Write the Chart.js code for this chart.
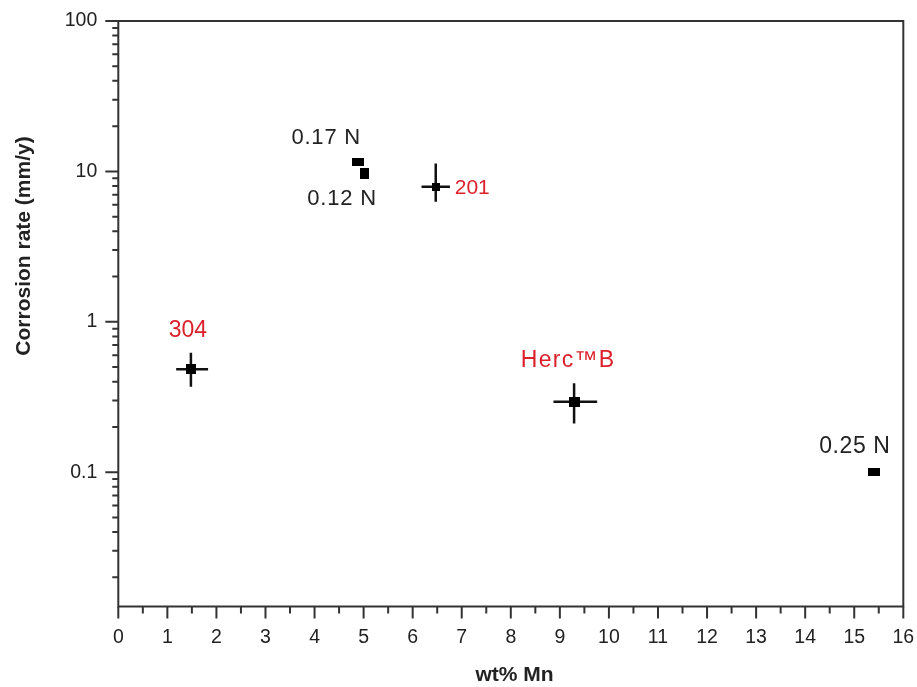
<!DOCTYPE html>
<html><head><meta charset="utf-8">
<script src="https://cdn.jsdelivr.net/npm/chart.js@4/dist/chart.umd.min.js"></script>
<style>html,body{margin:0;padding:0;background:#fff}#wrap{width:917px;height:687px;position:relative}</style>
</head><body><div id="wrap"><canvas id="c"></canvas></div>
<script>
// ---- data ----
const pointLabels   = ['304', '0.17 N', '0.12 N', '201', 'Herc\u2122B', '0.25 N'];
const mnWt          = [1.48, 4.89, 5.01, 6.47, 9.29, 15.40];
const corrosionRate = [0.483, 11.6, 9.7, 7.9, 0.294, 0.100];
const mnLow         = [1.18, null, null, 6.18, 8.87, null];
const mnHigh        = [1.83, null, null, 6.76, 9.76, null];
const rateLow       = [0.370, null, null, 6.29, 0.211, null];
const rateHigh      = [0.623, null, null, 11.3, 0.390, null];
const xTickValues   = [0,1,2,3,4,5,6,7,8,9,10,11,12,13,14,15,16];
const yTickValues   = [0.1, 1, 10, 100];
const xTitle = 'wt% Mn';
const yTitle = 'Corrosion rate (mm/y)';

// ---- styles (not data) ----
const RED = '#dc1f2a', INK = '#222222', AXIS = '#333333';
const FONT = '"Liberation Sans", Arial, Helvetica, sans-serif';
const labelStyle = [
  {color: RED, size: 23, sp: 0,   dx: -3,  dy: -39, align: 'center'},
  {color: INK, size: 22, sp: 0.8, dx: -32, dy: -24, align: 'center'},
  {color: INK, size: 22, sp: 0.8, dx: -22, dy: 26,  align: 'center'},
  {color: RED, size: 21, sp: 0,   dx: 19,  dy: 1,   align: 'left'},
  {color: RED, size: 23, sp: 1.3, dx: -6,  dy: -41, align: 'center'},
  {color: INK, size: 23, sp: 0.6, dx: -19, dy: -26, align: 'center'}
];
function makeRect(w, h) {
  const c = document.createElement('canvas'); c.width = w; c.height = h;
  const g = c.getContext('2d'); g.fillStyle = '#000'; g.fillRect(0, 0, w, h); return c;
}
const markers = [makeRect(10,10), makeRect(12,8), makeRect(9,11), makeRect(8,8), makeRect(11,10), makeRect(12,8)];

const decor = {
  id: 'decor',
  beforeDatasetsDraw(chart) {
    const {ctx, scales: {x, y}} = chart;
    ctx.save();
    ctx.strokeStyle = '#111'; ctx.lineWidth = 2.5; ctx.lineCap = 'butt';
    for (let i = 0; i < mnWt.length; i++) {
      if (mnLow[i] == null) continue;
      const px = x.getPixelForValue(mnWt[i]), py = y.getPixelForValue(corrosionRate[i]);
      ctx.beginPath();
      ctx.moveTo(x.getPixelForValue(mnLow[i]), py); ctx.lineTo(x.getPixelForValue(mnHigh[i]), py);
      ctx.moveTo(px, y.getPixelForValue(rateHigh[i])); ctx.lineTo(px, y.getPixelForValue(rateLow[i]));
      ctx.stroke();
    }
    ctx.restore();
  },
  afterDraw(chart) {
    const {ctx, chartArea: a, scales: {x, y}} = chart;
    ctx.save();
    // frame
    ctx.strokeStyle = AXIS; ctx.lineWidth = 2; ctx.lineCap = 'square';
    ctx.strokeRect(a.left, a.top, a.right - a.left, a.bottom - a.top);
    // y ticks
    ctx.lineCap = 'butt';
    ctx.beginPath();
    for (let d = -2; d <= 2; d++) {
      for (let k = 1; k <= 9; k++) {
        const v = k * Math.pow(10, d);
        if (v < y.min - 1e-12 || v > y.max + 1e-9) continue;
        const py = y.getPixelForValue(v), len = k === 1 ? 13 : 6;
        ctx.moveTo(a.left - len, py); ctx.lineTo(a.left, py);
      }
    }
    // x ticks
    for (let v = 0; v <= 16; v += 0.5) {
      const px = x.getPixelForValue(v), len = Number.isInteger(v) ? 12 : 7;
      ctx.moveTo(px, a.bottom); ctx.lineTo(px, a.bottom + len);
    }
    ctx.stroke();
    // point labels
    ctx.textBaseline = 'middle';
    for (let i = 0; i < pointLabels.length; i++) {
      const s = labelStyle[i];
      ctx.fillStyle = s.color; ctx.font = s.size + 'px ' + FONT; ctx.textAlign = s.align;
      ctx.letterSpacing = s.sp + 'px';
      ctx.fillText(pointLabels[i], x.getPixelForValue(mnWt[i]) + s.dx, y.getPixelForValue(corrosionRate[i]) + s.dy);
    }
    ctx.letterSpacing = '0px';
    // axis titles
    ctx.fillStyle = INK; ctx.font = 'bold 21px ' + FONT; ctx.textAlign = 'center';
    ctx.fillText(xTitle, 514.5, 675.5);
    ctx.translate(24, 246); ctx.rotate(-Math.PI / 2);
    ctx.fillText(yTitle, 0, 0);
    ctx.restore();
  }
};

new Chart(document.getElementById('c'), {
  type: 'scatter',
  data: {
    datasets: [{
      data: mnWt.map((v, i) => ({x: v, y: corrosionRate[i]})),
      pointStyle: markers,
      backgroundColor: '#000', borderColor: '#000',
      pointRadius: 6, pointHoverRadius: 6
    }]
  },
  options: {
    responsive: true, maintainAspectRatio: false, animation: false,
    devicePixelRatio: 1,
    layout: {padding: {top: 21, right: 13.7, left: 0, bottom: 0}},
    plugins: {legend: {display: false}, tooltip: {enabled: false}},
    scales: {
      x: {
        type: 'linear', min: 0, max: 16,
        grid: {display: false}, border: {display: false},
        afterBuildTicks: s => { s.ticks = xTickValues.map(v => ({value: v})); },
        afterFit: s => { s.height = 80.5; s.paddingLeft = 0; s.paddingRight = 0; },
        ticks: {autoSkip: false, maxRotation: 0, padding: 11, color: INK,
                font: {family: FONT, size: 19.5}}
      },
      y: {
        type: 'logarithmic', min: 0.0128, max: 100,
        grid: {display: false}, border: {display: false},
        afterBuildTicks: s => { s.ticks = yTickValues.map(v => ({value: v})); },
        afterFit: s => { s.width = 118.3; s.paddingTop = 0; s.paddingBottom = 0; },
        ticks: {autoSkip: false, padding: 13, color: INK,
                font: {family: FONT, size: 19.5},
                callback: v => String(v)}
      }
    }
  },
  plugins: [decor]
});
</script>
</body></html>
